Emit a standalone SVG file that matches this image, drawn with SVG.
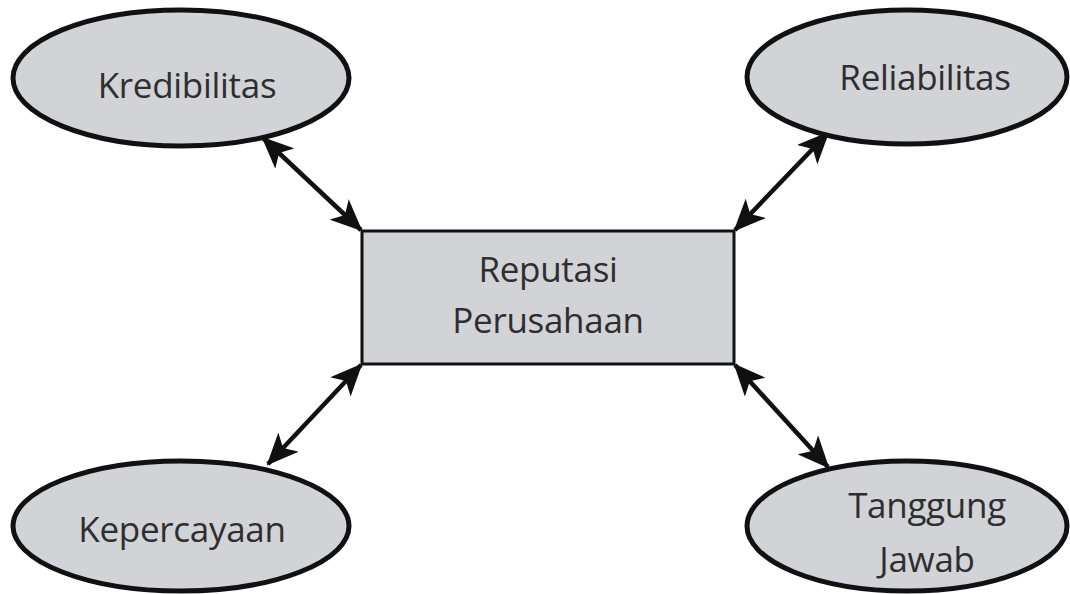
<svg xmlns="http://www.w3.org/2000/svg" width="1070" height="594" viewBox="0 0 1070 594">
<style>
.node{fill:#d1d3d6;stroke:#111;stroke-width:5}
.box{fill:#d1d3d6;stroke:#111;stroke-width:3}
.lbl{font-family:"Open Sans","Liberation Sans",sans-serif;font-size:35px;fill:#2e2e30;text-anchor:middle;letter-spacing:-0.3px}
.conn{stroke:#111;stroke-width:4.5;fill:none;marker-start:url(#ah);marker-end:url(#ah)}
</style>
<defs>
<marker id="ah" viewBox="0 0 32 28" refX="30" refY="14" markerWidth="32" markerHeight="28" markerUnits="userSpaceOnUse" orient="auto-start-reverse">
<path d="M0,0 L32,14 L0,28 L8,14 Z" fill="#111"/>
</marker>
</defs>
<rect width="1070" height="594" fill="#fff"/>
<g id="connectors">
<line class="conn" x1="263" y1="138" x2="361" y2="230"/>
<line class="conn" x1="828" y1="133" x2="735" y2="230"/>
<line class="conn" x1="361" y1="365" x2="268" y2="464"/>
<line class="conn" x1="735" y1="365" x2="828" y2="467"/>
</g>
<g id="reputasi">
<rect class="box" x="362" y="231" width="372" height="133"/>
<text class="lbl" x="548" y="282">Reputasi</text>
<text class="lbl" x="548" y="333">Perusahaan</text>
</g>
<g id="kredibilitas">
<ellipse class="node" cx="181" cy="78" rx="168" ry="68"/>
<text class="lbl" x="187" y="98">Kredibilitas</text>
</g>
<g id="reliabilitas">
<ellipse class="node" cx="907" cy="77" rx="160" ry="67"/>
<text class="lbl" x="925" y="90">Reliabilitas</text>
</g>
<g id="kepercayaan">
<ellipse class="node" cx="181" cy="526" rx="168" ry="65"/>
<text class="lbl" x="182" y="542">Kepercayaan</text>
</g>
<g id="tanggung-jawab">
<ellipse class="node" cx="907" cy="526" rx="160" ry="65"/>
<text class="lbl" x="927" y="518">Tanggung</text>
<text class="lbl" x="927" y="572">Jawab</text>
</g>
</svg>
